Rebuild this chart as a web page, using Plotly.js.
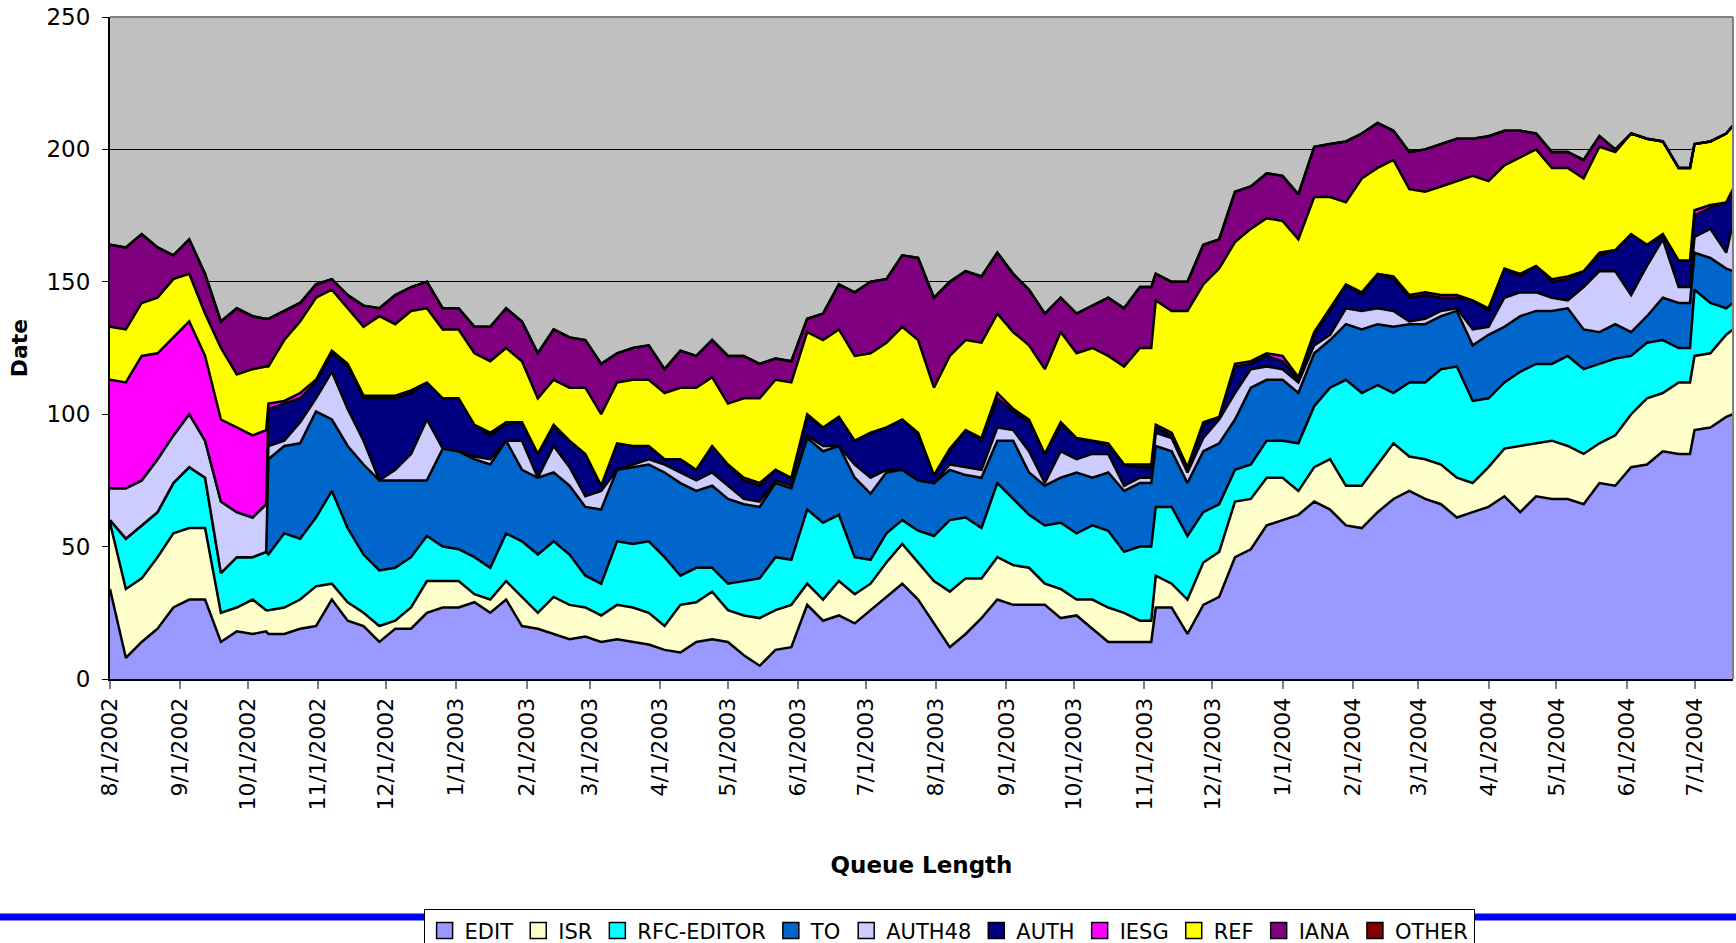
<!DOCTYPE html>
<html><head><meta charset="utf-8">
<script src="https://cdn.plot.ly/plotly-3.0.1.min.js"></script>
<style>html,body{margin:0;padding:0;background:#fff}#chart{width:1736px;height:943px}</style>
</head><body><div id="chart"></div>
<script>
const dates = ['2002-08-01','2002-08-08','2002-08-15','2002-08-22','2002-08-29','2002-09-05','2002-09-12','2002-09-19','2002-09-26','2002-10-03','2002-10-09','2002-10-10','2002-10-17','2002-10-24','2002-10-31','2002-11-07','2002-11-14','2002-11-21','2002-11-28','2002-12-05','2002-12-12','2002-12-19','2002-12-26','2003-01-02','2003-01-09','2003-01-16','2003-01-23','2003-01-30','2003-02-06','2003-02-13','2003-02-20','2003-02-27','2003-03-06','2003-03-13','2003-03-20','2003-03-27','2003-04-03','2003-04-10','2003-04-17','2003-04-24','2003-05-01','2003-05-08','2003-05-15','2003-05-22','2003-05-29','2003-06-05','2003-06-12','2003-06-19','2003-06-26','2003-07-03','2003-07-10','2003-07-17','2003-07-24','2003-07-31','2003-08-07','2003-08-14','2003-08-21','2003-08-28','2003-09-04','2003-09-11','2003-09-18','2003-09-25','2003-10-02','2003-10-09','2003-10-16','2003-10-23','2003-10-30','2003-11-04','2003-11-06','2003-11-13','2003-11-20','2003-11-27','2003-12-04','2003-12-11','2003-12-18','2003-12-25','2004-01-01','2004-01-08','2004-01-15','2004-01-22','2004-01-29','2004-02-05','2004-02-12','2004-02-19','2004-02-26','2004-03-04','2004-03-11','2004-03-18','2004-03-25','2004-04-01','2004-04-08','2004-04-15','2004-04-22','2004-04-29','2004-05-06','2004-05-13','2004-05-20','2004-05-27','2004-06-03','2004-06-10','2004-06-17','2004-06-24','2004-06-29','2004-07-01','2004-07-08','2004-07-15','2004-07-18'];

const EDIT = [34,8,14,19,27,30,30,14,18,17, 18, 17,17,19,20,30,22,20,14,19,19,25,27, 27,29,25,30,20,19,17,15,16,14,15,14, 13,11,10,14,15,14,9,5,11,12,28,22, 24,21,26,31,36,30,21,12,17,23,30,28, 28,28,23,24,19,14,14,14, 14, 27,27,17,28,31,46,49,58, 60,62,67,64,58,57,63,68,71,68,66,61, 63,65,69,63,69,68,68,66,74,73,80,81,86,85, 85, 94,95,99, 100];
const ISR = [25,26,24,27,28,27,27,11,9,13, 8, 9,10,11,15,6,7,5,6,3,8,12,10, 10,3,5,7,11,6,14,13,11,10,13,13, 12,9,18,15,18,12,15,18,15,16,8,8, 13,11,10,13,15,14,16,21,21,15,16,15, 14,8,11,6,11,13,11,8, 8, 12,9,13,16,17,21,19,18, 16,9,13,19,15,16,18,21,13,15,15,15, 11,15,18,25,20,22,20,19,15,19,20,25,22,27, 27, 28,28,31, 32];
const RFC_EDITOR = [1,19,20,17,19,23,19,15,19,16, 22, 21,28,23,26,35,28,22,21,20,19,17,13, 12,14,12,18,21,22,21,19,12,12,24,24, 27,26,11,13,9,10,13,15,20,17,28,29, 25,14,9,11,9,12,17,27,23,19,28,25, 20,22,25,25,28,29,23,28, 28, 26,29,24,19,18,12,13,14, 14,18,23,27,40,35,30,19,28,29,36,42, 31,26,25,28,30,29,34,32,30,29,22,21,20,13, 13, 25,19,10, 10];
const TO = [0,0,0,0,0,0,0,0,0,0, 0, 36,33,36,40,27,31,34,34,33,29,21,37, 37,37,39,35,27,29,26,26,26,28,27,29, 29,32,35,29,31,32,29,27,28,27,27,27, 26,30,25,23,19,19,20,19,16,19,16,22, 16,15,17,23,18,22,23,24, 24, 23,21,20,23,23,19,29,23, 23,19,20,18,21,24,23,25,22,22,20,21, 21,24,21,21,20,20,18,15,12,13,9,10,16,17, 17, 14,17,15, 12];
const AUTH48 = [12,19,17,20,18,20,14,27,17,15, 18, 5,2,8,5,18,14,9,0,4,10,23,0, 0,1,2,0,11,0,10,7,4,7,0,1, 2,3,4,4,5,5,2,2,1,1,1,2, 0,5,6,1,0,0,0,2,3,3,5,4, 8,1,10,5,9,7,2,2, 2, 5,5,4,5,9,10,7,5, 4,4,3,2,6,7,6,6,1,2,2,1, 6,3,11,9,7,5,3,16,23,20,14,19,22,6, 6, 6,11,6, 18];
const AUTH = [0,0,0,0,0,0,0,0,0,0, 0, 14,14,9,6,7,16,16,31,27,23,14,19, 20,12,9,6,7,9,7,10,16,2,10,7, 5,2,5,4,10,8,7,6,4,3,7,7, 11,9,17,16,19,17,3,5,14,11,11,7, 11,11,10,8,5,3,8,4, 4, 2,1,1,5,1,10,2,4, 3,1,4,9,9,6,13,12,9,9,5,4, 11,6,11,6,10,6,8,6,6,8,23,8,1,10, 10, 8,8,19, 13];
const IESG = [41,40,47,40,37,35,32,31,32,31, 28, 2,1,2,1,1,1,1,1,1,1,0,0, 0,0,1,1,0,0,1,0,0,0,0,0, 0,0,0,0,0,0,1,1,0,0,1,0, 0,0,0,0,0,1,0,1,0,1,2,1, 1,0,1,0,0,1,0,1, 1, 1,1,1,1,0,1,1,1, 2,1,1,1,0,1,0,1,1,1,1,1, 0,1,0,1,0,1,1,0,1,0,0,0,1,0, 0, 2,1,0, 0];
const REF = [20,20,20,21,22,18,16,27,20,25, 24, 14,23,27,31,23,21,26,30,27,30,28,26, 26,27,27,28,23,21,17,20,25,27,23,25, 25,25,27,31,26,23,30,32,34,36,31,33, 33,32,30,32,35,35,33,35,34,36,30,29, 28,32,34,32,35,33,37,44, 44, 47,46,59,52,56,46,50,51, 51,52,51,42,31,43,40,44,40,38,41,43, 47,48,39,44,44,42,41,35,40,37,38,40,35,35, 35, 25,24,26, 24];
const IANA = [31,31,26,19,9,13,15,10,25,20, 18, 18,11,7,5,4,5,8,3,11,9,10,8, 8,10,13,15,15,17,19,19,18,19,11,12, 13,9,14,12,14,18,16,13,8,8,5,10, 17,24,27,24,27,31,34,28,26,25,23,22, 21,21,13,15,16,22,22,23, 23, 10,11,11,15,11,19,16,17, 17,17,19,20,23,17,17,11,14,16,16,16, 14,17,13,10,6,6,6,7,4,1,0,0,0,0, 0, 0,0,0, 0];
const OTHER = [0,0,0,0,0,0,0,0,0,0, 0, 0,0,0,0,0,0,0,0,0,0,0,0, 0,0,0,0,0,0,0,0,0,0,0,0, 0,0,0,0,0,0,0,0,0,0,0,0, 0,0,0,0,0,0,0,0,0,0,0,0, 0,0,0,0,0,0,0,0, 0, 0,0,0,0,0,0,0,0, 0,0,0,0,0,0,0,0,0,0,0,0, 0,0,0,0,0,0,0,0,0,0,0,0,0,0, 0, 0,0,0, 0];

const seriesNames = ['EDIT','ISR','RFC-EDITOR','TO','AUTH48','AUTH','IESG','REF','IANA','OTHER'];
const seriesColors = ['#9999FF','#FFFFCC','#00FFFF','#0066CC','#CCCCFF','#000080','#FF00FF','#FFFF00','#800080','#800000'];
const seriesValues = [EDIT, ISR, RFC_EDITOR, TO, AUTH48, AUTH, IESG, REF, IANA, OTHER];

const tickDates = ['2002-08-01','2002-09-01','2002-10-01','2002-11-01','2002-12-01','2003-01-01','2003-02-01','2003-03-01','2003-04-01','2003-05-01','2003-06-01','2003-07-01','2003-08-01','2003-09-01','2003-10-01','2003-11-01','2003-12-01','2004-01-01','2004-02-01','2004-03-01','2004-04-01','2004-05-01','2004-06-01','2004-07-01'];
const tickLabels = ['8/1/2002','9/1/2002','10/1/2002','11/1/2002','12/1/2002','1/1/2003','2/1/2003','3/1/2003','4/1/2003','5/1/2003','6/1/2003','7/1/2003','8/1/2003','9/1/2003','10/1/2003','11/1/2003','12/1/2003','1/1/2004','2/1/2004','3/1/2004','4/1/2004','5/1/2004','6/1/2004','7/1/2004'];

const traces = [];
seriesNames.forEach((name, i) => {
  traces.push({
    type: 'scatter', mode: 'lines', x: dates, y: seriesValues[i],
    stackgroup: 'queue', name: name, showlegend: false,
    line: {color: '#000000', width: 2.5, shape: 'linear'},
    fillcolor: seriesColors[i], hoverinfo: 'skip'
  });
});
// legend swatches: one square marker per series, placed below the y range so it is clipped away
seriesNames.forEach((name, i) => {
  traces.push({
    type: 'scatter', mode: 'markers', x: [dates[0]], y: [-20], name: name, showlegend: true,
    cliponaxis: true, hoverinfo: 'skip',
    marker: {symbol: 'square', size: 16, color: seriesColors[i], line: {color: '#000000', width: 1.5}}
  });
});

const layout = {
  width: 1736, height: 943,
  margin: {l: 110, r: 3, t: 17, b: 264, pad: 0, autoexpand: false},
  paper_bgcolor: '#FFFFFF', plot_bgcolor: '#C0C0C0',
  font: {family: 'DejaVu Sans, Verdana, sans-serif', color: '#000000'},
  showlegend: true,
  xaxis: {
    type: 'date', range: ['2002-08-01', '2004-07-18'],
    tickmode: 'array', tickvals: tickDates, ticktext: tickLabels, tickangle: -90,
    tickfont: {size: 22, color: '#000000'},
    ticks: 'outside', ticklen: 8, tickwidth: 2, tickcolor: '#808080',
    showline: true, linecolor: '#000000', linewidth: 2,
    showgrid: false, zeroline: false, automargin: false, fixedrange: true,
    title: {text: 'Queue Length', font: {size: 23, weight: 'bold'}, standoff: 47}
  },
  yaxis: {
    range: [0, 250], tickmode: 'array', tickvals: [0, 50, 100, 150, 200, 250],
    tickfont: {size: 23, color: '#000000'},
    ticks: 'outside', ticklen: 6, tickwidth: 1, tickcolor: '#000000', ticklabelstandoff: 7,
    showline: true, linecolor: '#000000', linewidth: 2,
    showgrid: true, gridcolor: '#000000', gridwidth: 1,
    zeroline: false, automargin: false, fixedrange: true,
    title: {text: 'Date', font: {size: 22, weight: 'bold'}, standoff: 13}
  },
  legend: {
    orientation: 'h', x: 0.517, xanchor: 'center', y: -0.348, yanchor: 'top',
    bgcolor: '#FFFFFF', bordercolor: '#000000', borderwidth: 1,
    font: {size: 21, family: 'DejaVu Sans, sans-serif'},
    traceorder: 'normal', itemwidth: 30
  },
  shapes: [
    {type: 'line', xref: 'paper', yref: 'paper', x0: -0.07, x1: 1.01, y0: -0.3595, y1: -0.3595,
     line: {color: '#0000FF', width: 7}},
    {type: 'line', xref: 'paper', yref: 'paper', x0: 0, x1: 1, y0: 1, y1: 1,
     line: {color: '#808080', width: 2}},
    {type: 'line', xref: 'paper', yref: 'paper', x0: 1, x1: 1, y0: 0, y1: 1,
     line: {color: '#808080', width: 2}}
  ]
};

Plotly.newPlot('chart', traces, layout, {staticPlot: true, displayModeBar: false});
</script>
</body></html>
